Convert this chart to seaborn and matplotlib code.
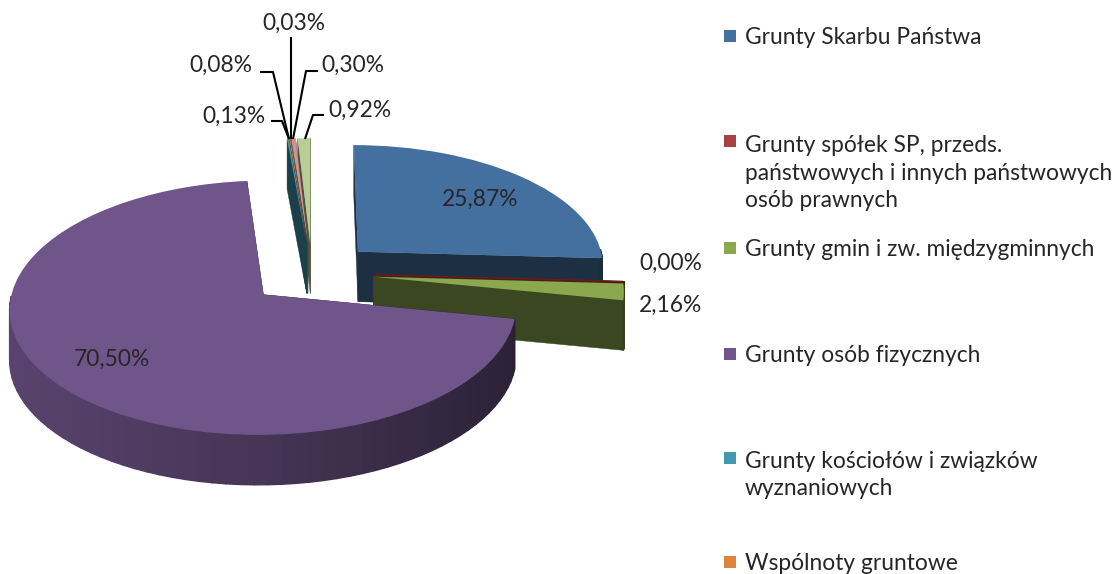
import numpy as np
import matplotlib
matplotlib.use("Agg")
import matplotlib.pyplot as plt
import matplotlib.transforms as mtransforms
import seaborn as sns

# ---- data ----
values = [25.87, 0.00, 2.16, 70.50, 0.13, 0.08, 0.03, 0.30, 0.92]
value_labels = ["25,87%", "0,00%", "2,16%", "70,50%", "0,13%", "0,08%", "0,03%", "0,30%", "0,92%"]
legend_labels = [
    "Grunty Skarbu Państwa",
    "Grunty spółek SP, przeds.\npaństwowych i innych państwowych\nosób prawnych",
    "Grunty gmin i zw. międzygminnych",
    "Grunty osób fizycznych",
    "Grunty kościołów i związków\nwyznaniowych",
    "Wspólnoty gruntowe",
]
colors = ["#44709F", "#A8423F", "#8BA84F", "#70558B", "#4198AF", "#DB843D", "#93A9CF", "#D19392", "#B9CD96"]
explode = [0.26, 0.25, 0.25, 0.26, 0.25, 0.25, 0.25, 0.25, 0.25]

# ---- layout (pixels) ----
W, H = 1115, 574
legend_y = [38, 173, 250, 356, 475, 564]
label_xy = [(480, 199), (671, 263), (671, 305), (112, 359), (234, 116),
            (221, 65), (294, 23), (353, 65), (360, 110)]
leaders = {4: [(271, 121), (282, 121), (289, 139)],
           5: [(260, 72), (273, 72), (289, 139)],
           6: [(291, 37), (291, 139)],
           7: [(318, 71), (306, 71), (293, 139)],
           8: [(324, 115), (313, 115), (305, 139)]}
CX, CY, R, RK, P, DEPTH = 312.0, 261.0, 245.0, 119.0, 0.10, 50.0

sns.set_theme(style="white")
plt.rcParams["font.family"] = ["Lato", "DejaVu Sans"]
palette = sns.color_palette(colors)
TXT = "#262626"
FS = 16.4


def project(xy):
    xy = np.asarray(xy, float)
    w = 1 + P * xy[..., 1]
    return np.stack([CX + R * xy[..., 0] / w, CY - RK * xy[..., 1] / w], axis=-1)


class Plane(mtransforms.Transform):
    input_dims = output_dims = 2
    is_separable = False
    has_inverse = False

    def transform_non_affine(self, values):
        return project(values)


def extrude(pts_plane):
    top = project(pts_plane)
    bottom = top.copy()
    bottom[..., 1] += DEPTH
    return top, bottom


def shade(c, f):
    return tuple(np.clip(np.array(c[:3]) * f, 0, 1))


fig = plt.figure(figsize=(W / 100, H / 100), dpi=100)
ax = fig.add_axes([0, 0, 1, 1])
wedges, _ = ax.pie(values, colors=palette, explode=explode, startangle=90,
                   counterclock=False, center=(0, -0.10), radius=1.0,
                   wedgeprops=dict(linewidth=0))
ax.set_aspect("auto")
ax.set_xlim(0, W)
ax.set_ylim(H, 0)
ax.axis("off")

plane = Plane() + ax.transData
draw_order = [8, 7, 6, 5, 4, 0, 1, 2, 3]
for k, i in enumerate(draw_order):
    w = wedges[i]
    c = palette[i]
    z = 10 + 3 * k
    w.set_transform(plane)
    w.set_zorder(z + 2)
    cen = np.array(w.center)
    th = np.radians(np.linspace(w.theta1, w.theta2, 90))
    rim = cen + np.stack([np.cos(th), np.sin(th)], axis=1) * w.r
    # cut faces
    for end in (rim[0], rim[-1]):
        t, b = extrude(np.array([cen, end]))
        ax.fill([t[0, 0], t[1, 0], b[1, 0], b[0, 0]], [t[0, 1], t[1, 1], b[1, 1], b[0, 1]],
                color=shade(c, 0.42), lw=0.3, zorder=z)
    # outer wall, front-facing part only, lit from the left
    t, b = extrude(rim)
    for j in range(len(rim) - 1):
        if np.sin(th[j]) > 0:
            continue
        f = 0.62 - 0.24 * np.cos(th[j]) * (1 if np.cos(th[j]) > 0 else 0.75)
        ax.fill([t[j, 0], t[j + 1, 0], b[j + 1, 0], b[j, 0]], [t[j, 1], t[j + 1, 1], b[j + 1, 1], b[j, 1]],
                color=shade(c, f), lw=1.0, zorder=z + 1)

# the 0,00% slice shows as a thin dark line
wedges[1].set_edgecolor("#6E1A1A")
wedges[1].set_linewidth(1.0)

for i, (lab, (x, y)) in enumerate(zip(value_labels, label_xy)):
    ax.text(x, y, lab, ha="center", va="center", fontsize=FS, color=TXT, zorder=60)

for pts in leaders.values():
    pts = np.array(pts)
    ax.plot(pts[:, 0], pts[:, 1], color="black", lw=1.5, zorder=55, solid_capstyle="butt")

for lab, y, c in zip(legend_labels, legend_y, palette):
    first = y - 2 - 15 * lab.count("\n")
    ax.fill([724, 736, 736, 724], [first - 6, first - 6, first + 6, first + 6], color=c, lw=0, zorder=60)
    ax.text(745, y, lab, ha="left", va="center", fontsize=FS, color=TXT, linespacing=1.38, zorder=60)

fig.savefig("out.png", dpi=100, facecolor="white")
